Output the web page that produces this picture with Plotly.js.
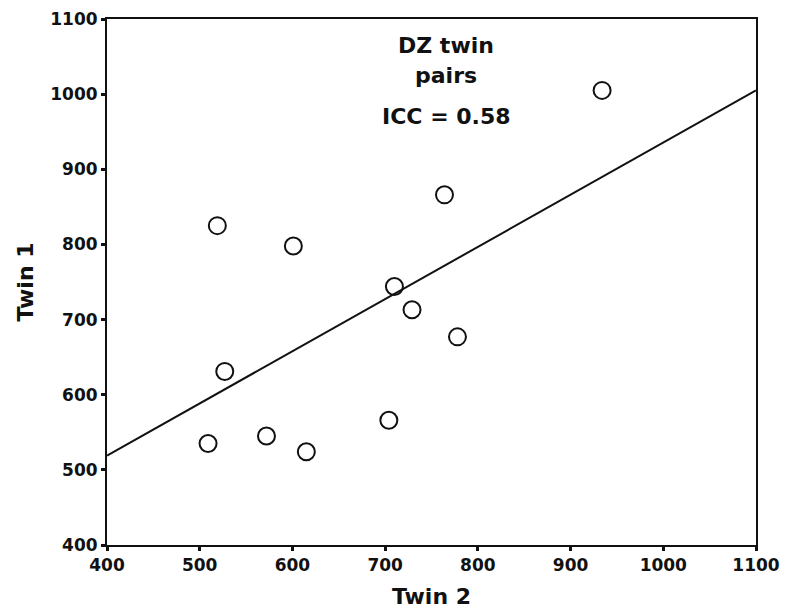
<!DOCTYPE html>
<html>
<head>
<meta charset="utf-8">
<script src="https://cdn.plot.ly/plotly-3.0.1.min.js"></script>
<style>html,body{margin:0;padding:0;background:#fff;}#chart{width:790px;height:610px;}</style>
</head>
<body>
<div id="chart"></div>
<script>
// Data
const twin2 = [519, 601, 527, 509, 572, 615, 704, 710, 729, 778, 764, 934];
const twin1 = [825, 798, 631, 535, 545, 524, 566, 744, 713, 677, 866, 1005];
// Regression line end values (Twin 2 -> Twin 1)
const fitX = [400, 1100];
const fitY = [519, 1005];
const xTicks = [400, 500, 600, 700, 800, 900, 1000, 1100];
const yTicks = [400, 500, 600, 700, 800, 900, 1000, 1100];
const titleLines = ["DZ twin", "pairs", "ICC = 0.58"];
const titleX = [766, 766, 766];
const titleY = [1065, 1025, 970];

const fontFam = "DejaVu Sans, Verdana, sans-serif";

const traces = [
  {
    x: fitX, y: fitY, mode: "lines", type: "scatter",
    line: {color: "#111", width: 2}, hoverinfo: "skip", showlegend: false
  },
  {
    x: twin2, y: twin1, mode: "markers", type: "scatter",
    marker: {symbol: "circle-open", size: 17, color: "#111", line: {width: 2, color: "#111"}},
    showlegend: false
  }
];

const annotations = titleLines.map((t, i) => ({
  x: titleX[i], y: titleY[i], xref: "x", yref: "y", text: t, showarrow: false,
  font: {family: fontFam, size: 22, color: "#111", weight: "bold"},
  xanchor: "center", yanchor: "middle"
}));

const layout = {
  width: 790, height: 610,
  margin: {l: 107, r: 34, t: 19, b: 65},
  paper_bgcolor: "#fff", plot_bgcolor: "#fff",
  showlegend: false,
  xaxis: {
    range: [400, 1100], tickvals: xTicks, ticktext: xTicks.map(String),
    showgrid: false, zeroline: false,
    showline: true, linecolor: "#111", linewidth: 2, mirror: true,
    ticks: "outside", ticklen: 4, tickwidth: 3, tickcolor: "#111",
    tickfont: {family: fontFam, size: 17, color: "#111", weight: "bold"},
    title: {text: "Twin 2", standoff: 14, font: {family: fontFam, size: 22, color: "#111", weight: "bold"}}
  },
  yaxis: {
    range: [400, 1100], tickvals: yTicks, ticktext: yTicks.map(String),
    showgrid: false, zeroline: false,
    showline: true, linecolor: "#111", linewidth: 2, mirror: true,
    ticks: "outside", ticklen: 4, tickwidth: 3, tickcolor: "#111",
    tickfont: {family: fontFam, size: 17, color: "#111", weight: "bold"},
    title: {text: "Twin 1", standoff: 11, font: {family: fontFam, size: 22, color: "#111", weight: "bold"}}
  },
  annotations: annotations
};

Plotly.newPlot("chart", traces, layout, {displayModeBar: false, staticPlot: true});
</script>
</body>
</html>
